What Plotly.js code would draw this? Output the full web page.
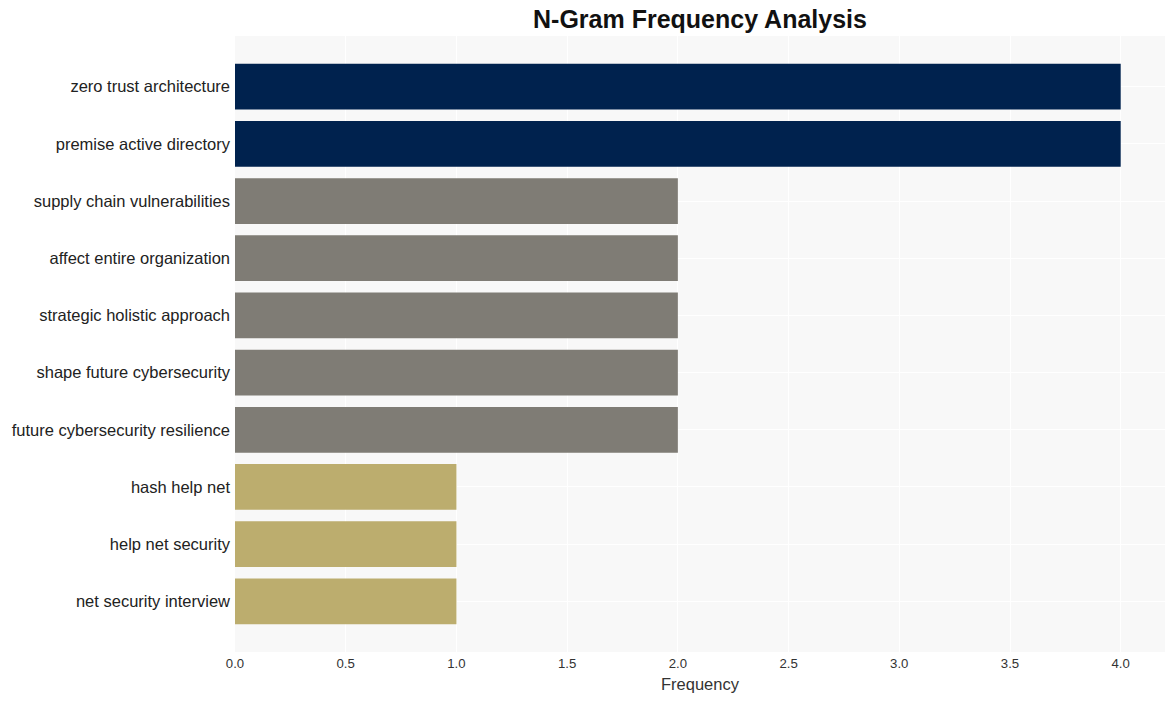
<!DOCTYPE html>
<html>
<head>
<meta charset="utf-8">
<script src="https://cdn.plot.ly/plotly-3.0.1.min.js"></script>
<style>html,body{margin:0;padding:0;background:#fff;}#chart{width:1175px;height:701px;}</style>
</head>
<body>
<div id="chart"></div>
<script>
const categories = [
  "zero trust architecture",
  "premise active directory",
  "supply chain vulnerabilities",
  "affect entire organization",
  "strategic holistic approach",
  "shape future cybersecurity",
  "future cybersecurity resilience",
  "hash help net",
  "help net security",
  "net security interview"
];
const frequencies = [4, 4, 2, 2, 2, 2, 2, 1, 1, 1];
const barColors = ["#00224e", "#00224e", "#7f7c75", "#7f7c75", "#7f7c75", "#7f7c75", "#7f7c75", "#bcad6e", "#bcad6e", "#bcad6e"];
const xTickValues = [0, 0.5, 1, 1.5, 2, 2.5, 3, 3.5, 4];
const xTickLabels = ["0.0", "0.5", "1.0", "1.5", "2.0", "2.5", "3.0", "3.5", "4.0"];

const trace = {
  type: "bar",
  orientation: "h",
  x: frequencies,
  y: categories,
  marker: {color: barColors},
  width: 0.8,
  hoverinfo: "x+y"
};

const layout = {
  width: 1175,
  height: 701,
  margin: {l: 235, r: 10, t: 36, b: 49},
  paper_bgcolor: "#ffffff",
  plot_bgcolor: "#f8f8f8",
  font: {family: "Liberation Sans, Arial, sans-serif", color: "#222"},
  title: {
    text: "<b>N-Gram Frequency Analysis</b>",
    x: 0.5, xref: "paper", xanchor: "center",
    y: 0.972, yref: "container", yanchor: "middle",
    font: {size: 25, color: "#111", family: "Liberation Sans, Arial, sans-serif"}
  },
  xaxis: {
    range: [0, 4.2],
    tickvals: xTickValues,
    ticktext: xTickLabels,
    gridcolor: "#ffffff",
    gridwidth: 1,
    zeroline: false,
    showline: false,
    ticks: "",
    ticklabelstandoff: 2,
    tickfont: {size: 13.2, color: "#333"},
    title: {text: "Frequency", font: {size: 16.5, color: "#333"}, standoff: 8}
  },
  yaxis: {
    type: "category",
    range: [9.885, -0.885],
    gridcolor: "#ffffff",
    gridwidth: 1,
    zeroline: false,
    showline: false,
    ticks: "",
    ticklabelstandoff: 4,
    tickfont: {size: 16.5, color: "#222"}
  },
  bargap: 0.2,
  showlegend: false
};

Plotly.newPlot("chart", [trace], layout, {displayModeBar: false, staticPlot: true});
</script>
</body>
</html>
